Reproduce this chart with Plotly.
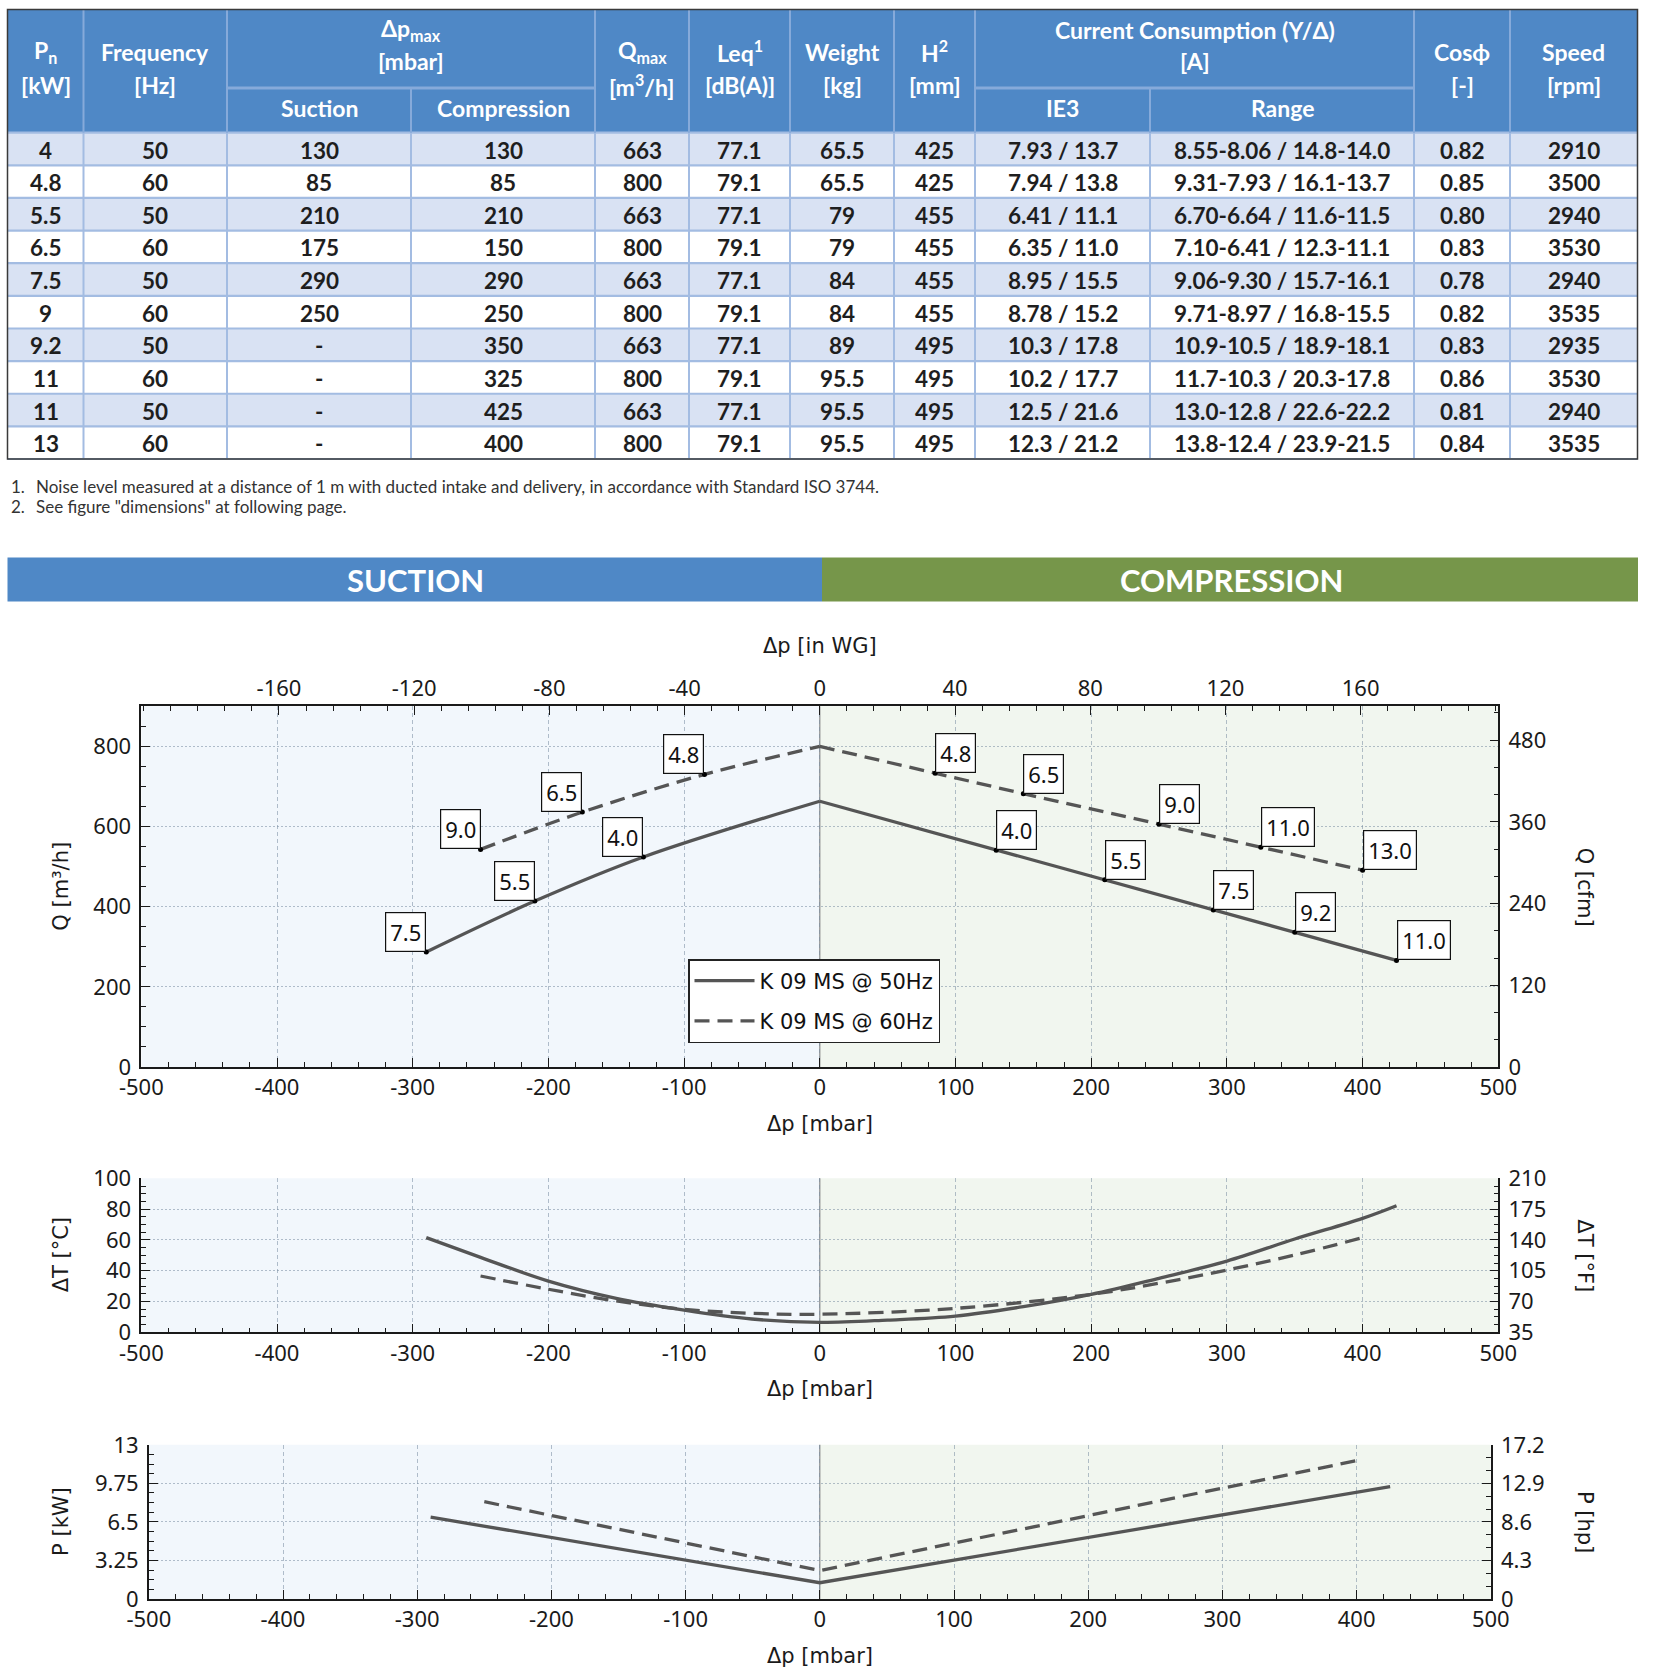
import plotly.graph_objects as go

W, H = 1677, 1678
FONT_T = "Lato"
FONT_C = "Noto Sans"
FONT_AT = "DejaVu Sans"

# ---------------- table data ----------------
pn = ["4", "4.8", "5.5", "6.5", "7.5", "9", "9.2", "11", "11", "13"]
freq = [50, 60, 50, 60, 50, 60, 50, 60, 50, 60]
dp_suction = [130, 85, 210, 175, 290, 250, None, None, None, None]
dp_compression = [130, 85, 210, 150, 290, 250, 350, 325, 425, 400]
q_max = [663, 800, 663, 800, 663, 800, 663, 800, 663, 800]
leq = ["77.1", "79.1", "77.1", "79.1", "77.1", "79.1", "77.1", "79.1", "77.1", "79.1"]
weight = ["65.5", "65.5", "79", "79", "84", "84", "89", "95.5", "95.5", "95.5"]
h_mm = [425, 425, 455, 455, 455, 455, 495, 495, 495, 495]
ie3 = ["7.93 / 13.7", "7.94 / 13.8", "6.41 / 11.1", "6.35 / 11.0", "8.95 / 15.5",
       "8.78 / 15.2", "10.3 / 17.8", "10.2 / 17.7", "12.5 / 21.6", "12.3 / 21.2"]
i_range = ["8.55-8.06 / 14.8-14.0", "9.31-7.93 / 16.1-13.7", "6.70-6.64 / 11.6-11.5",
           "7.10-6.41 / 12.3-11.1", "9.06-9.30 / 15.7-16.1", "9.71-8.97 / 16.8-15.5",
           "10.9-10.5 / 18.9-18.1", "11.7-10.3 / 20.3-17.8", "13.0-12.8 / 22.6-22.2",
           "13.8-12.4 / 23.9-21.5"]
cos_phi = ["0.82", "0.85", "0.80", "0.83", "0.78", "0.82", "0.83", "0.86", "0.81", "0.84"]
speed = [2910, 3500, 2940, 3530, 2940, 3535, 2935, 3530, 2940, 3535]

header_single = {0: ["P<sub>n</sub>", "[kW]"], 1: ["Frequency", "[Hz]"],
                 4: ["Q<sub>max</sub>", "[m<sup>3</sup>/h]"], 5: ["Leq<sup>1</sup>", "[dB(A)]"],
                 6: ["Weight", "[kg]"], 7: ["H<sup>2</sup>", "[mm]"],
                 10: ["Cosϕ", "[-]"], 11: ["Speed", "[rpm]"]}
header_merged = [(2, 3, ["Δp<sub>max</sub>", "[mbar]"], ["Suction", "Compression"]),
                 (8, 9, ["Current Consumption (Y/Δ)", "[A]"], ["IE3", "Range"])]
footnotes = ["Noise level measured at a distance of 1 m with ducted intake and delivery, in accordance with Standard ISO 3744.",
             "See figure \"dimensions\" at following page."]
banner = ["SUCTION", "COMPRESSION"]

# ---------------- chart data ----------------
q_at_suction = [524, 730, 414, 636, 287, 543, None, None, None, None]
q_at_compression = [541, 733, 467, 682, 392, 606, 336, 548, 266, 491]

dT_50_dp = [-290, -250, -200, -150, -100, -50, 0, 50, 100, 150, 200, 250, 300, 350, 400, 425]
dT_50 = [61.5, 48.7, 33.3, 22.1, 14.5, 8.7, 6.5, 8.0, 10.6, 16.7, 24.7, 35.1, 46.3, 60.6, 74.0, 82.2]
dT_60_dp = [-250, -200, -150, -100, -50, 0, 100, 200, 250, 300, 350, 400]
dT_60 = [36.6, 28.0, 20.4, 15.0, 12.4, 11.8, 15.6, 24.7, 31.9, 40.5, 50.2, 61.5]

p_50_dp = [-290, 0, 425]
p_50 = [6.9, 1.37, 9.48]
p_60_dp = [-250, 0, 400]
p_60 = [8.2, 2.4, 11.66]

series_names = ["K 09 MS @ 50Hz", "K 09 MS @ 60Hz"]

dp_ticks = [-500, -400, -300, -200, -100, 0, 100, 200, 300, 400, 500]
wg_ticks = [-160, -120, -80, -40, 0, 40, 80, 120, 160]
q_ticks = [0, 200, 400, 600, 800]
cfm_ticks = [0, 120, 240, 360, 480]
t_ticks = [0, 20, 40, 60, 80, 100]
tf_ticks = [35, 70, 105, 140, 175, 210]
p_ticks = [0, 3.25, 6.5, 9.75, 13]
hp_ticks = [0, 4.3, 8.6, 12.9, 17.2]

K_WG = 0.401463    # in WG per mbar
K_CFM = 0.588578   # cfm per m3/h
K_HP = 1.341       # hp per kW

# ---------------- layout constants (pixels) ----------------
col_edges = [7.5, 83.5, 227, 411, 595, 689, 790, 894, 975, 1150, 1414, 1510, 1637.5]
tbl_top, hdr_mid, hdr_bot, tbl_bot = 9.6, 88.0, 132.7, 459.0
c1 = (141.3, 706.3, 1498.3, 1067.0)
c2 = (141.3, 1178.3, 1498.3, 1332.4)
c3 = (148.8, 1444.8, 1490.8, 1599.0)

HDR = "#4F88C6"
ROW_ALT = "#D9E2F3"
SEP = "#A3BCE2"
HDR_SEP = "#86AADA"
GREEN = "#76964A"
LINE = "#555555"
GRID = "rgba(120,140,160,0.55)"
INK = "#1A1A1A"

shapes, annotations = [], []


def X(v):
    return v / W


def Y(v):
    return 1 - v / H


def rect(x0, y0, x1, y1, fill, lc=None, lw=0):
    shapes.append(dict(type="rect", xref="paper", yref="paper", x0=X(x0), x1=X(x1),
                       y0=Y(y1), y1=Y(y0), fillcolor=fill,
                       line=dict(width=lw, color=lc or fill), layer="above"))


def seg(x0, y0, x1, y1, color, w):
    shapes.append(dict(type="line", xref="paper", yref="paper", x0=X(x0), x1=X(x1),
                       y0=Y(y0), y1=Y(y1), line=dict(color=color, width=w), layer="above"))


def txt(x, y, s, size, color, family=FONT_T, bold=False, xanchor="center", angle=0):
    annotations.append(dict(xref="paper", yref="paper", x=X(x), y=Y(y), text=s,
                            showarrow=False, xanchor=xanchor, yanchor="middle",
                            textangle=angle,
                            font=dict(family=family, size=size, color=color,
                                      weight="bold" if bold else "normal")))


# ---------------- table ----------------
n_rows = len(pn)
row_h = (tbl_bot - hdr_bot) / n_rows
rect(col_edges[0], tbl_top, col_edges[-1], hdr_bot, HDR)
for i in range(n_rows):
    if i % 2 == 0:
        rect(col_edges[0], hdr_bot + i * row_h, col_edges[-1], hdr_bot + (i + 1) * row_h, ROW_ALT)
for i in range(n_rows + 1):
    yy = hdr_bot + i * row_h
    seg(col_edges[0], yy, col_edges[-1], yy, SEP, 2.2)
for k, xe in enumerate(col_edges[1:-1], start=1):
    seg(xe, hdr_bot, xe, tbl_bot, SEP, 2)
    merged_inner = any(a + 1 == k for a, b, _, _ in header_merged)
    seg(xe, hdr_mid if merged_inner else tbl_top, xe, hdr_bot, HDR_SEP, 2)
for a, b, _, _ in header_merged:
    seg(col_edges[a], hdr_mid, col_edges[b + 1], hdr_mid, HDR_SEP, 3)
rect(col_edges[0], tbl_top, col_edges[-1], tbl_bot, "rgba(0,0,0,0)", "#3A3A3A", 1.5)

HF = 23
for c, lines in header_single.items():
    xc = (col_edges[c] + col_edges[c + 1]) / 2
    txt(xc, 52, lines[0], HF, "white", bold=True)
    txt(xc, 85, lines[1], HF, "white", bold=True)
for a, b, top_lines, subs in header_merged:
    xc = (col_edges[a] + col_edges[b + 1]) / 2
    txt(xc, 30, top_lines[0], HF, "white", bold=True)
    txt(xc, 61, top_lines[1], HF, "white", bold=True)
    for j, s in enumerate(subs):
        xs = (col_edges[a + j] + col_edges[a + j + 1]) / 2
        txt(xs, 108, s, HF, "white", bold=True)

columns = [pn, freq, ["-" if v is None else v for v in dp_suction], dp_compression, q_max,
           leq, weight, h_mm, ie3, i_range, cos_phi, speed]
for c, col in enumerate(columns):
    xc = (col_edges[c] + col_edges[c + 1]) / 2
    for i, v in enumerate(col):
        txt(xc, hdr_bot + (i + 0.5) * row_h + 1, str(v), 22.5, "#1E1E1E", bold=True)

# footnotes
for k, s in enumerate(footnotes):
    txt(9, 486 + 20.5 * k, f"{k + 1}.", 17, "#333333", xanchor="left")
    txt(34, 486 + 20.5 * k, s, 17, "#333333", xanchor="left")

# banner
rect(7.5, 557.6, 822, 601.5, HDR)
rect(822, 557.6, 1638, 601.5, GREEN)
txt(415, 580, banner[0], 31, "white", bold=True)
txt(1231, 580, banner[1], 31, "white", bold=True)

# ---------------- charts ----------------
fig = go.Figure()


def pts_for(fv, side):
    out = []
    for i in range(n_rows):
        if freq[i] != fv:
            continue
        if side == "s" and dp_suction[i] is not None:
            out.append((-dp_suction[i], q_at_suction[i], pn[i]))
        if side == "c":
            out.append((dp_compression[i], q_at_compression[i], pn[i]))
    return sorted(out)


styles = {50: dict(color=LINE, width=3.3), 60: dict(color=LINE, width=3.3, dash="15px,8px")}
ghost = dict(mode="lines", line=dict(width=0), opacity=0, hoverinfo="skip", showlegend=False)

for idx, fv in enumerate([50, 60]):
    q0 = q_max[freq.index(fv)]
    s_pts = pts_for(fv, "s")
    c_pts = pts_for(fv, "c")
    fig.add_trace(go.Scatter(x=[p[0] for p in s_pts] + [0], y=[p[1] for p in s_pts] + [q0],
                             mode="lines", line=styles[fv], line_shape="spline",
                             name=series_names[idx], legendgroup=str(fv), showlegend=True,
                             xaxis="x", yaxis="y"))
    fig.add_trace(go.Scatter(x=[0] + [p[0] for p in c_pts], y=[q0] + [p[1] for p in c_pts],
                             mode="lines", line=styles[fv],
                             name=series_names[idx], legendgroup=str(fv), showlegend=False,
                             xaxis="x", yaxis="y"))
    allp = s_pts + c_pts
    fig.add_trace(go.Scatter(x=[p[0] for p in allp], y=[p[1] for p in allp], mode="markers",
                             marker=dict(size=5, color="black"), showlegend=False,
                             hoverinfo="skip", xaxis="x", yaxis="y"))
    # secondary-unit axes (in WG, cfm) carry the same curve, invisibly
    fig.add_trace(go.Scatter(x=[p[0] * K_WG for p in c_pts], y=[p[1] for p in c_pts],
                             xaxis="x4", yaxis="y", **ghost))
    fig.add_trace(go.Scatter(x=[p[0] for p in c_pts], y=[p[1] * K_CFM for p in c_pts],
                             xaxis="x", yaxis="y4", **ghost))
    for side, pts in (("right", s_pts), ("left", c_pts)):
        for xp, yp, lab in pts:
            annotations.append(dict(x=xp, y=yp, xref="x", yref="y", text=f"{float(lab):.1f}",
                                    showarrow=False, xanchor=side, yanchor="bottom",
                                    bgcolor="white", bordercolor="#111111", borderwidth=1.2,
                                    borderpad=4,
                                    font=dict(family=FONT_C, size=22, color="#111111")))

fig.add_trace(go.Scatter(x=dT_50_dp, y=dT_50, mode="lines", line=styles[50], line_shape="spline",
                         showlegend=False, xaxis="x2", yaxis="y2"))
fig.add_trace(go.Scatter(x=dT_60_dp, y=dT_60, mode="lines", line=styles[60], line_shape="spline",
                         showlegend=False, xaxis="x2", yaxis="y2"))
fig.add_trace(go.Scatter(x=dT_50_dp, y=[35 + 1.75 * t for t in dT_50], xaxis="x2", yaxis="y5", **ghost))
fig.add_trace(go.Scatter(x=p_50_dp, y=p_50, mode="lines", line=styles[50],
                         showlegend=False, xaxis="x3", yaxis="y3"))
fig.add_trace(go.Scatter(x=p_60_dp, y=p_60, mode="lines", line=styles[60],
                         showlegend=False, xaxis="x3", yaxis="y3"))
fig.add_trace(go.Scatter(x=p_50_dp, y=[p * K_HP for p in p_50], xaxis="x3", yaxis="y6", **ghost))

tickfont = dict(family=FONT_C, size=22, color=INK)


def labels(vals):
    return [f"{v:g}" for v in vals]


def ax(**kw):
    d = dict(showline=True, linecolor=INK, linewidth=1.6, ticks="inside", ticklen=9,
             tickwidth=1.3, tickcolor=INK, tickfont=tickfont, zeroline=False,
             showgrid=False, fixedrange=True, automargin=False)
    d.update(kw)
    return d


def yax(**kw):
    return ax(ticklabelstandoff=4, **kw)


def mnr(step):
    return dict(ticks="inside", ticklen=5, dtick=step, tick0=0, tickcolor=INK, tickwidth=1.2)


def xgrid(box, anchor):
    return ax(domain=[X(box[0]), X(box[2])], anchor=anchor, range=[-500, 500],
              tickvals=dp_ticks, ticktext=labels(dp_ticks),
              showgrid=True, gridcolor=GRID, griddash="4px,3px", gridwidth=1, minor=mnr(20))


def ydom(box):
    return [Y(box[3]), Y(box[1])]


fig.update_layout(
    width=W, height=H, autosize=False,
    margin=dict(l=0, r=0, t=0, b=0, pad=0, autoexpand=False),
    paper_bgcolor="white", plot_bgcolor="white",
    xaxis=xgrid(c1, "y"),
    xaxis2=xgrid(c2, "y2"),
    xaxis3=xgrid(c3, "y3"),
    xaxis4=ax(overlaying="x", side="top", anchor="y", range=[-500 * K_WG, 500 * K_WG],
              tickvals=wg_ticks, ticktext=labels(wg_ticks), minor=mnr(8)),
    yaxis=yax(domain=ydom(c1), anchor="x", range=[0, 900], tickvals=q_ticks, ticktext=labels(q_ticks),
              showgrid=True, gridcolor=GRID, griddash="2px,2px", minor=mnr(50)),
    yaxis4=yax(overlaying="y", side="right", anchor="x", range=[0, 900 * K_CFM],
               tickvals=cfm_ticks, ticktext=labels(cfm_ticks), minor=mnr(40)),
    yaxis2=yax(domain=ydom(c2), anchor="x2", range=[0, 100], tickvals=t_ticks, ticktext=labels(t_ticks),
               showgrid=True, gridcolor=GRID, griddash="2px,2px", minor=mnr(5)),
    yaxis5=yax(overlaying="y2", side="right", anchor="x2", range=[35, 210],
               tickvals=tf_ticks, ticktext=labels(tf_ticks), minor=dict(mnr(8.75), tick0=35)),
    yaxis3=yax(domain=ydom(c3), anchor="x3", range=[0, 13], tickvals=p_ticks, ticktext=labels(p_ticks),
               showgrid=True, gridcolor=GRID, griddash="2px,2px", minor=mnr(0.8125)),
    yaxis6=yax(overlaying="y3", side="right", anchor="x3", range=[0, 17.2],
               tickvals=hp_ticks, ticktext=labels(hp_ticks), minor=mnr(4.3 / 3)),
    legend=dict(x=X(688), y=Y(959), xanchor="left", yanchor="top", bgcolor="white",
                bordercolor="#222222", borderwidth=1.5,
                font=dict(family=FONT_AT, size=21, color="#111111"), itemwidth=60),
)

# half backgrounds and zero lines
for xr, yr in (("x", "y"), ("x2", "y2"), ("x3", "y3")):
    shapes.append(dict(type="rect", xref=xr, yref=f"{yr} domain", x0=-500, x1=0, y0=0, y1=1,
                       fillcolor="#F2F7FC", line=dict(width=0), layer="below"))
    shapes.append(dict(type="rect", xref=xr, yref=f"{yr} domain", x0=0, x1=500, y0=0, y1=1,
                       fillcolor="#F1F6EF", line=dict(width=0), layer="below"))
    shapes.append(dict(type="line", xref=xr, yref=f"{yr} domain", x0=0, x1=0, y0=0, y1=1,
                       line=dict(color="#8A8A8A", width=1.2), layer="below"))

# axis titles
TF = 21
txt(820, 646, "Δp [in WG]", TF, INK, family=FONT_AT)
for box, yb, lt, rt in ((c1, 1124, "Q [m³/h]", "Q [cfm]"), (c2, 1389, "ΔT [°C]", "ΔT [°F]"),
                        (c3, 1656, "P [kW]", "P [hp]")):
    txt(820, yb, "Δp [mbar]", TF, INK, family=FONT_AT)
    ym = (box[1] + box[3]) / 2
    txt(61, ym, lt, TF, INK, family=FONT_AT, angle=-90)
    txt(1585, ym, rt, TF, INK, family=FONT_AT, angle=90)

fig.update_layout(shapes=shapes, annotations=annotations)
fig.write_html("out.html", config={"displayModeBar": False, "responsive": False},
               post_script="document.body.style.margin='0';document.body.style.overflow='hidden';")
